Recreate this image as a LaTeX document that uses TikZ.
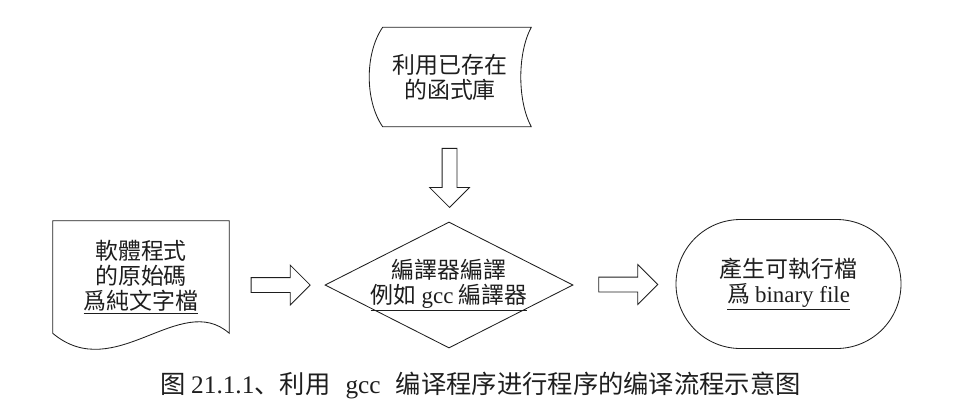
\documentclass[tikz,border=0pt]{standalone}
\usepackage{fontspec}
\newfontfamily\tcfont{Noto Sans CJK TC}
\newfontfamily\scfont{Noto Sans CJK SC}
\newfontfamily\latfont{Liberation Serif}
\usetikzlibrary{shapes.geometric, shapes.arrows, shapes.misc, calc}
\definecolor{lineblack}{RGB}{30, 30, 30}
\newcommand{\lat}[1]{{\latfont #1}}
\tikzset{
    flowtext/.style={font=\tcfont\fontsize{16.3}{17.8}\selectfont, align=center, text=lineblack, inner sep=0pt},
    shapeline/.style={draw=lineblack, line width=0.6pt},
    docbox/.style={flowtext, rectangle, minimum width=44mm, minimum height=28mm},
    libbox/.style={flowtext, rectangle, minimum width=40.5mm, minimum height=24.75mm},
    decision/.style={shapeline, diamond, minimum width=62mm, minimum height=31.5mm, inner sep=0pt},
    terminal/.style={flowtext, shapeline, rounded rectangle, minimum width=56.25mm, minimum height=32.25mm},
    blockarrow/.style={shapeline, single arrow, inner sep=1.75mm, single arrow head extend=3.125mm, minimum height=14.75mm},
    caption/.style={font=\scfont\fontsize{18}{20}\selectfont, text=lineblack, inner sep=0pt},
}
\begin{document}
\begin{tikzpicture}[x=0.25mm, y=-0.25mm]
    \useasboundingbox (0,0) rectangle (966,409);
    \node[libbox] (lib) at (450,77) {利用已存在\\的函式庫};
    \draw[shapeline] ($(lib.north west)+(14,0)$) -- (lib.north east) .. controls +(-14,26) and +(-14,-26) .. (lib.south east) -- ($(lib.south west)+(14,0)$) .. controls +(-18,-26) and +(-18,26) .. cycle;

    \node[docbox] (src) at (141,277) {軟體程式\\的原始碼\\\underline{爲純文字檔}};
    \draw[shapeline] (src.south west) -- (src.north west) -- (src.north east) -- (src.south east) .. controls +(-49,-43) and +(62,52) .. (src.south west);

    \node[decision] (dia) at (449,285) {};
    \node[flowtext] (diatext) at (dia.center) {編譯器編譯\\\underline{例如 \lat{gcc} 編譯器}};

    \node[terminal] (out) at (788.5,284) {產生可執行檔\\\underline{爲 \lat{binary file}}};

    \node[blockarrow] (a1) at ($(src.east |- dia.west)!0.5!(dia.west)$) {};
    \node[blockarrow] (a2) at ($(dia.east)!0.5!(out.west)$) {};
    \node[blockarrow, shape border rotate=270] (a3) at ($(lib.south)!0.5!(dia.north)$) {};

    \node[caption] (cap) at (480.5,385) {图 \lat{21.1.1}、利用\hspace{0.6em}\lat{gcc}\hspace{0.6em}编译程序进行程序的编译流程示意图};
\end{tikzpicture}
\end{document}
